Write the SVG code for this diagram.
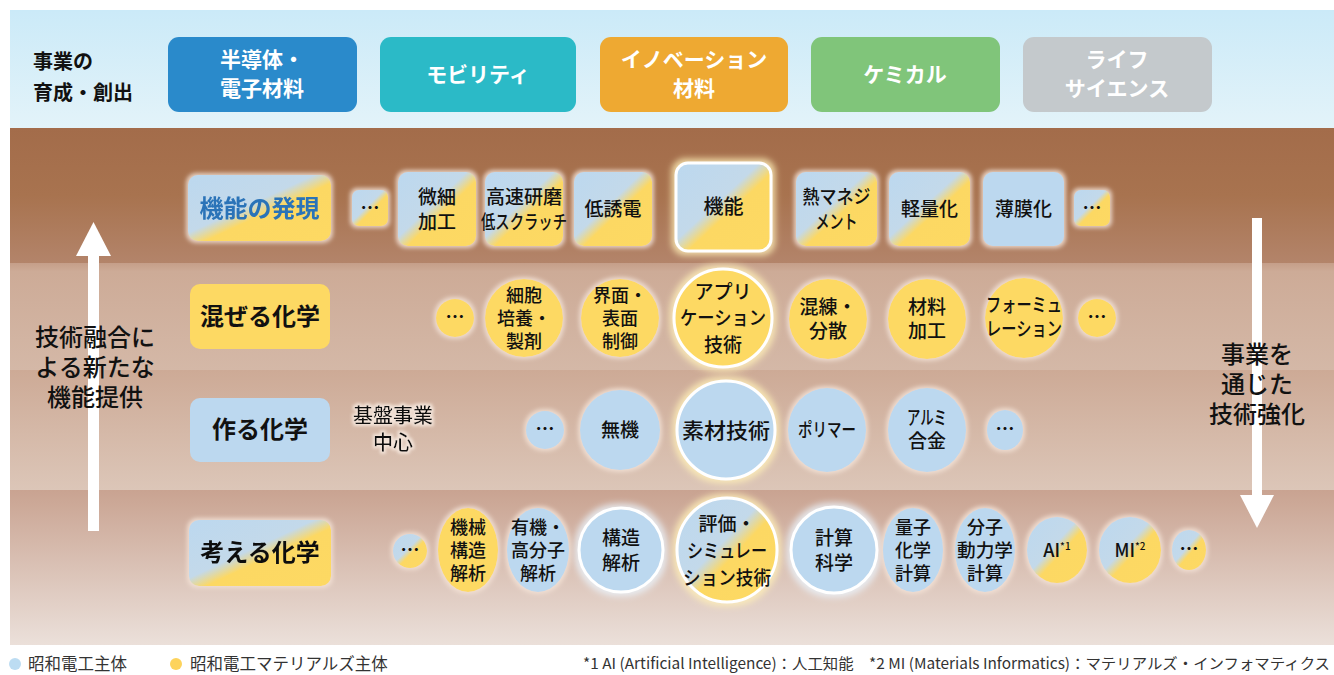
<svg xmlns="http://www.w3.org/2000/svg" width="1334" height="675" viewBox="0 0 1334 675">
<style>
.t{font-family:"Noto Sans CJK JP","Noto Sans",sans-serif;fill:#111;text-anchor:middle;font-weight:500}
.n{font-size:19px}
.s{font-size:18px}
.d{font-size:19px;font-weight:bold}
.hdr{font-size:24px;font-weight:bold}
.top{font-size:21px;font-weight:bold;fill:#fff}
.side{font-size:24px}
.blue{fill:#bcd8ef}
.yel{fill:#fdd963}
.mix{fill:url(#mix)}
.ring{stroke:#fff;stroke-width:3}
.lg{font-family:"Noto Sans CJK JP","Noto Sans",sans-serif;font-size:16.5px;fill:#333}
.fn{font-family:"Noto Sans CJK JP","Noto Sans",sans-serif;font-size:15px;fill:#333}
</style>
<defs>
<linearGradient id="sky" x1="0" y1="0" x2="0" y2="1">
<stop offset="0" stop-color="#cbeaf8"/><stop offset="1" stop-color="#e3f3f9"/>
</linearGradient>
<linearGradient id="r1" x1="0" y1="0" x2="0" y2="1">
<stop offset="0" stop-color="#a36c4a"/><stop offset="0.5" stop-color="#a8734f"/><stop offset="1" stop-color="#b3846a"/>
</linearGradient>
<linearGradient id="r2" x1="0" y1="0" x2="0" y2="1">
<stop offset="0" stop-color="#c59e89"/><stop offset="0.08" stop-color="#cdab97"/><stop offset="1" stop-color="#d4b8a7"/>
</linearGradient>
<linearGradient id="r3" x1="0" y1="0" x2="0" y2="1">
<stop offset="0" stop-color="#cdaa96"/><stop offset="1" stop-color="#dcc6b8"/>
</linearGradient>
<linearGradient id="r4" x1="0" y1="0" x2="0" y2="1">
<stop offset="0" stop-color="#c9a391"/><stop offset="1" stop-color="#ebe0da"/>
</linearGradient>
<linearGradient id="mix" x1="0" y1="0" x2="1" y2="1">
<stop offset="0" stop-color="#bcd8ef"/><stop offset="0.44" stop-color="#c3d9ea"/><stop offset="0.56" stop-color="#fcd864"/><stop offset="1" stop-color="#fdd963"/>
</linearGradient>
<filter id="halo" x="-30%" y="-30%" width="160%" height="160%">
<feMorphology in="SourceAlpha" operator="dilate" radius="2" result="d"/>
<feGaussianBlur in="d" stdDeviation="2" result="b"/>
<feFlood flood-color="#f3e2d6" flood-opacity="0.85"/>
<feComposite in2="b" operator="in" result="h"/>
<feMerge><feMergeNode in="h"/><feMergeNode in="SourceGraphic"/></feMerge>
</filter>
<filter id="warm" x="-30%" y="-30%" width="160%" height="160%">
<feMorphology in="SourceAlpha" operator="dilate" radius="3" result="d"/>
<feGaussianBlur in="d" stdDeviation="3" result="b"/>
<feFlood flood-color="#fff0b8" flood-opacity="0.8"/>
<feComposite in2="b" operator="in" result="h"/>
<feMerge><feMergeNode in="h"/><feMergeNode in="SourceGraphic"/></feMerge>
</filter>
<filter id="cool" x="-30%" y="-30%" width="160%" height="160%">
<feMorphology in="SourceAlpha" operator="dilate" radius="3" result="d"/>
<feGaussianBlur in="d" stdDeviation="3" result="b"/>
<feFlood flood-color="#eaf3fb" flood-opacity="0.8"/>
<feComposite in2="b" operator="in" result="h"/>
<feMerge><feMergeNode in="h"/><feMergeNode in="SourceGraphic"/></feMerge>
</filter>
<filter id="txtglow" x="-20%" y="-30%" width="140%" height="160%">
<feMorphology in="SourceAlpha" operator="dilate" radius="1.5" result="d"/>
<feGaussianBlur in="d" stdDeviation="1.5" result="b"/>
<feFlood flood-color="#f6e8de" flood-opacity="0.9"/>
<feComposite in2="b" operator="in" result="h"/>
<feMerge><feMergeNode in="h"/><feMergeNode in="SourceGraphic"/></feMerge>
</filter>
</defs>

<!-- backgrounds -->
<rect x="10" y="10" width="1324" height="118" fill="url(#sky)"/>
<rect x="10" y="128" width="1324" height="135" fill="url(#r1)"/>
<rect x="10" y="263" width="1324" height="107" fill="url(#r2)"/>
<rect x="10" y="370" width="1324" height="120" fill="url(#r3)"/>
<rect x="10" y="490" width="1324" height="155" fill="url(#r4)"/>

<!-- top business fields -->
<g id="biz-label">
<text class="t" style="text-anchor:start;font-size:20px;font-weight:bold"><tspan x="33" y="69">事業の</tspan><tspan x="33" y="100">育成・創出</tspan></text>
</g>
<g id="biz-semi">
<rect x="168" y="37" width="189" height="75" rx="11" fill="#2a8acb"/>
<text class="t top"><tspan x="262" y="67">半導体・</tspan><tspan x="262" y="96">電子材料</tspan></text>
</g>
<g id="biz-mobility">
<rect x="380" y="37" width="196" height="75" rx="11" fill="#2bbac7"/>
<text class="t top" x="478" y="82">モビリティ</text>
</g>
<g id="biz-innovation">
<rect x="600" y="37" width="188" height="75" rx="11" fill="#eea932"/>
<text class="t top"><tspan x="694" y="67">イノベーション</tspan><tspan x="694" y="96">材料</tspan></text>
</g>
<g id="biz-chemical">
<rect x="811" y="37" width="189" height="75" rx="11" fill="#80c57a"/>
<text class="t top" x="905" y="82">ケミカル</text>
</g>
<g id="biz-life">
<rect x="1023" y="37" width="189" height="75" rx="11" fill="#c4c9cc"/>
<text class="t top"><tspan x="1117" y="67">ライフ</tspan><tspan x="1117" y="96">サイエンス</tspan></text>
</g>

<!-- connectors: side arrows -->
<g id="connectors" fill="#fff">
<rect x="88" y="252" width="11" height="279"/>
<polygon points="76,256 93.5,222 111,256"/>
<rect x="1252" y="218" width="10" height="279"/>
<polygon points="1240,495 1257,528 1274,495"/>
</g>
<g id="side-left">
<text class="t side"><tspan x="95" y="346">技術融合に</tspan><tspan x="95" y="376">よる新たな</tspan><tspan x="95" y="406">機能提供</tspan></text>
</g>
<g id="side-right">
<text class="t side"><tspan x="1257" y="363">事業を</tspan><tspan x="1257" y="393">通じた</tspan><tspan x="1257" y="423">技術強化</tspan></text>
</g>

<!-- Row 1: 機能の発現 -->
<g id="row1-label" filter="url(#halo)">
<rect x="188" y="175" width="143" height="66" rx="10" class="mix"/>
<text class="t hdr" x="259.5" y="217" style="fill:#2a73b8">機能の発現</text>
</g>
<g id="r1-dots"><rect x="352" y="190" width="36" height="36" rx="7" class="mix" filter="url(#halo)"/><text class="t d" x="370" y="215">…</text></g>
<g id="r1-bisai"><rect x="398" y="172" width="78" height="74" rx="10" class="mix" filter="url(#halo)"/><text class="t n"><tspan x="437" y="204">微細</tspan><tspan x="437" y="229">加工</tspan></text></g>
<g id="r1-kensaku"><rect x="485" y="172" width="78" height="74" rx="10" class="mix" filter="url(#halo)"/><text class="t n"><tspan x="524" y="204" textLength="76" lengthAdjust="spacingAndGlyphs">高速研磨</tspan><tspan x="524" y="229" textLength="86" lengthAdjust="spacingAndGlyphs">低スクラッチ</tspan></text></g>
<g id="r1-teiyuden"><rect x="574" y="172" width="78" height="74" rx="10" class="mix" filter="url(#halo)"/><text class="t n" x="613" y="216">低誘電</text></g>
<g id="r1-kinou"><rect x="676" y="163" width="95" height="88" rx="12" class="mix ring" filter="url(#warm)"/><text class="t" x="723.5" y="214" style="font-size:20px">機能</text></g>
<g id="r1-netsu"><rect x="796" y="172" width="81" height="74" rx="10" class="mix" filter="url(#halo)"/><text class="t n"><tspan x="836.5" y="204" textLength="68" lengthAdjust="spacingAndGlyphs">熱マネジ</tspan><tspan x="836.5" y="229" textLength="42" lengthAdjust="spacingAndGlyphs">メント</tspan></text></g>
<g id="r1-keiryo"><rect x="889" y="172" width="81" height="74" rx="10" class="mix" filter="url(#halo)"/><text class="t n" x="929.5" y="216">軽量化</text></g>
<g id="r1-hakumaku"><rect x="983" y="172" width="81" height="74" rx="10" class="blue" filter="url(#halo)"/><text class="t n" x="1023.5" y="216">薄膜化</text></g>
<g id="r1-dots2"><rect x="1074" y="190" width="36" height="36" rx="7" class="mix" filter="url(#halo)"/><text class="t d" x="1092" y="215">…</text></g>

<!-- Row 2: 混ぜる化学 -->
<g id="row2-label">
<rect x="190" y="284" width="140" height="65" rx="10" class="yel"/>
<text class="t hdr" x="260" y="325">混ぜる化学</text>
</g>
<g id="r2-dots"><circle cx="455" cy="318" r="19" class="yel" filter="url(#halo)"/><text class="t d" x="455" y="324">…</text></g>
<g id="r2-saibou"><circle cx="524" cy="318" r="39" class="yel" filter="url(#halo)"/><text class="t s"><tspan x="524" y="302">細胞</tspan><tspan x="524" y="325">培養・</tspan><tspan x="524" y="348">製剤</tspan></text></g>
<g id="r2-kaimen"><circle cx="620" cy="318" r="39" class="yel" filter="url(#halo)"/><text class="t s"><tspan x="620" y="302">界面・</tspan><tspan x="620" y="325">表面</tspan><tspan x="620" y="348">制御</tspan></text></g>
<g id="r2-app"><circle cx="723" cy="318" r="49" class="yel ring" filter="url(#warm)"/><text class="t n"><tspan x="723" y="299">アプリ</tspan><tspan x="723" y="325" textLength="86" lengthAdjust="spacingAndGlyphs">ケーション</tspan><tspan x="723" y="352">技術</tspan></text></g>
<g id="r2-konren"><ellipse cx="828" cy="319" rx="39" ry="40" class="yel" filter="url(#halo)"/><text class="t n"><tspan x="828" y="314">混練・</tspan><tspan x="828" y="338">分散</tspan></text></g>
<g id="r2-zairyo"><ellipse cx="927" cy="319" rx="39" ry="40" class="yel" filter="url(#halo)"/><text class="t n"><tspan x="927" y="314">材料</tspan><tspan x="927" y="338">加工</tspan></text></g>
<g id="r2-formu"><ellipse cx="1024" cy="318" rx="39" ry="40" class="yel" filter="url(#halo)"/><text class="t n"><tspan x="1024" y="312" textLength="76" lengthAdjust="spacingAndGlyphs">フォーミュ</tspan><tspan x="1024" y="336" textLength="76" lengthAdjust="spacingAndGlyphs">レーション</tspan></text></g>
<g id="r2-dots2"><circle cx="1097" cy="318" r="19" class="yel" filter="url(#halo)"/><text class="t d" x="1097" y="324">…</text></g>

<!-- Row 3: 作る化学 -->
<g id="row3-label">
<rect x="190" y="398" width="140" height="64" rx="10" class="blue"/>
<text class="t hdr" x="260" y="438">作る化学</text>
</g>
<g id="r3-kiban" filter="url(#txtglow)"><text class="t" style="font-size:20px"><tspan x="393" y="423">基盤事業</tspan><tspan x="393" y="450">中心</tspan></text></g>
<g id="r3-dots"><circle cx="545" cy="430" r="19" class="blue" filter="url(#halo)"/><text class="t d" x="545" y="436">…</text></g>
<g id="r3-muki"><circle cx="620" cy="430" r="40" class="blue" filter="url(#halo)"/><text class="t n" x="620" y="437">無機</text></g>
<g id="r3-sozai"><circle cx="726" cy="430" r="49" class="blue ring" filter="url(#warm)"/><text class="t" x="726" y="438" style="font-size:21px" textLength="88" lengthAdjust="spacingAndGlyphs">素材技術</text></g>
<g id="r3-polymer"><ellipse cx="827" cy="430" rx="39" ry="42" class="blue" filter="url(#halo)"/><text class="t n" x="827" y="437" textLength="58" lengthAdjust="spacingAndGlyphs">ポリマー</text></g>
<g id="r3-alumi"><ellipse cx="927" cy="430" rx="39" ry="42" class="blue" filter="url(#halo)"/><text class="t n"><tspan x="927" y="425" textLength="40" lengthAdjust="spacingAndGlyphs">アルミ</tspan><tspan x="927" y="448">合金</tspan></text></g>
<g id="r3-dots2"><ellipse cx="1005" cy="430" rx="18" ry="20" class="blue" filter="url(#halo)"/><text class="t d" x="1005" y="436">…</text></g>

<!-- Row 4: 考える化学 -->
<g id="row4-label" filter="url(#halo)">
<rect x="189" y="520" width="142" height="66" rx="10" class="mix"/>
<text class="t hdr" x="260" y="561">考える化学</text>
</g>
<g id="r4-dots"><circle cx="410" cy="551" r="17" class="mix" filter="url(#halo)"/><text class="t d" x="410" y="557">…</text></g>
<g id="r4-kikai"><ellipse cx="468" cy="550" rx="30" ry="42" class="yel" filter="url(#halo)"/><text class="t s"><tspan x="468" y="534">機械</tspan><tspan x="468" y="557">構造</tspan><tspan x="468" y="580">解析</tspan></text></g>
<g id="r4-yuki"><ellipse cx="538" cy="550" rx="31" ry="42" class="blue" filter="url(#halo)"/><text class="t s"><tspan x="538" y="534">有機・</tspan><tspan x="538" y="557">高分子</tspan><tspan x="538" y="580">解析</tspan></text></g>
<g id="r4-kozo"><circle cx="621" cy="550" r="42" class="blue ring" filter="url(#cool)"/><text class="t n"><tspan x="621" y="545">構造</tspan><tspan x="621" y="570">解析</tspan></text></g>
<g id="r4-hyoka"><ellipse cx="727" cy="550" rx="50" ry="52" class="mix ring" filter="url(#warm)"/><text class="t n"><tspan x="727" y="531">評価・</tspan><tspan x="727" y="558" textLength="80" lengthAdjust="spacingAndGlyphs">シミュレー</tspan><tspan x="727" y="585" textLength="88" lengthAdjust="spacingAndGlyphs">ション技術</tspan></text></g>
<g id="r4-keisan"><circle cx="834" cy="550" r="43" class="blue ring" filter="url(#cool)"/><text class="t n"><tspan x="834" y="545">計算</tspan><tspan x="834" y="570">科学</tspan></text></g>
<g id="r4-ryoshi"><ellipse cx="913" cy="550" rx="30" ry="42" class="blue" filter="url(#halo)"/><text class="t s"><tspan x="913" y="534">量子</tspan><tspan x="913" y="557">化学</tspan><tspan x="913" y="580">計算</tspan></text></g>
<g id="r4-bunshi"><ellipse cx="985" cy="550" rx="30" ry="42" class="blue" filter="url(#halo)"/><text class="t s"><tspan x="985" y="534">分子</tspan><tspan x="985" y="557" textLength="56" lengthAdjust="spacingAndGlyphs">動力学</tspan><tspan x="985" y="580">計算</tspan></text></g>
<g id="r4-ai"><ellipse cx="1057" cy="550" rx="30" ry="33" class="mix" filter="url(#halo)"/><text class="t" x="1057" y="557" style="font-size:18px">AI<tspan style="font-size:10px" dy="-7">*1</tspan></text></g>
<g id="r4-mi"><ellipse cx="1130" cy="550" rx="31" ry="33" class="mix" filter="url(#halo)"/><text class="t" x="1130" y="557" style="font-size:18px">MI<tspan style="font-size:10px" dy="-7">*2</tspan></text></g>
<g id="r4-dots2"><ellipse cx="1189" cy="550" rx="17" ry="20" class="mix" filter="url(#halo)"/><text class="t d" x="1189" y="556">…</text></g>

<!-- legend -->
<g id="legend">
<circle cx="15" cy="664" r="6" fill="#bcdcf2"/>
<text class="lg" x="28" y="670">昭和電工主体</text>
<circle cx="176" cy="664" r="6" fill="#fdd35c"/>
<text class="lg" x="190" y="670">昭和電工マテリアルズ主体</text>
<text class="fn" x="583" y="669" textLength="747" lengthAdjust="spacingAndGlyphs">*1 AI (Artificial Intelligence)：人工知能　*2 MI (Materials Informatics)：マテリアルズ・インフォマティクス</text>
</g>
</svg>
